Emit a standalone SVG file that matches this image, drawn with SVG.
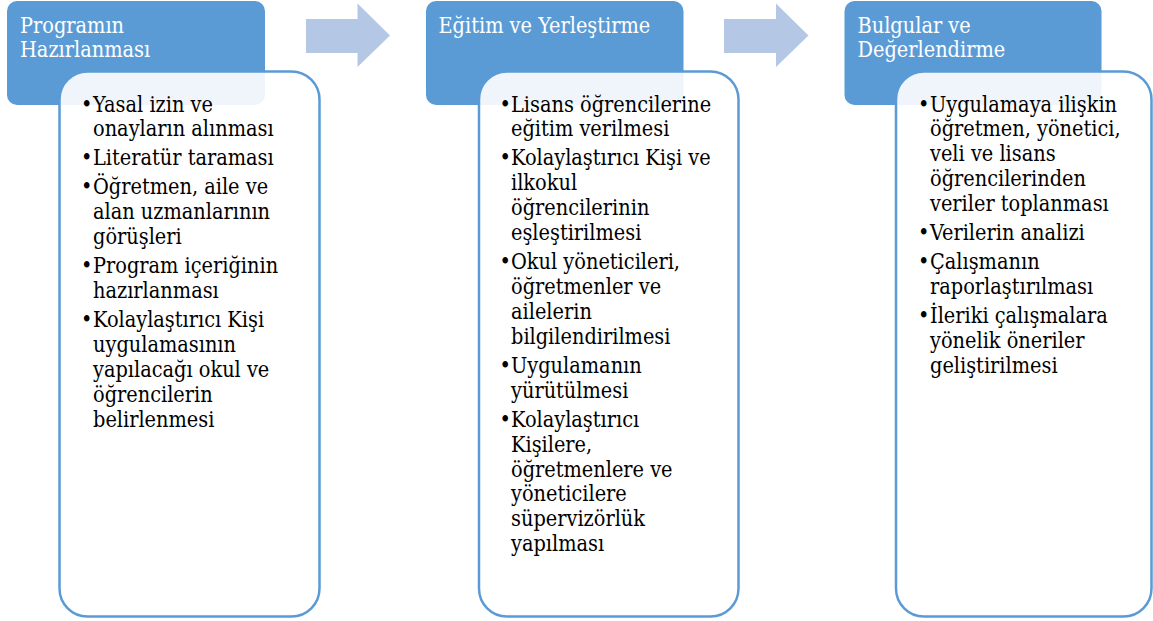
<svg xmlns="http://www.w3.org/2000/svg" width="1153" height="621" viewBox="0 0 1153 621">
<style>
.hdr{fill:#5B9BD5;}
.box{fill:#FFFFFF;fill-opacity:0.9;stroke:#5B9BD5;stroke-width:2.5;}
.arr{fill:#B4C8E6;}
.ht{font-family:'DejaVu Serif Condensed','DejaVu Serif',serif;font-stretch:condensed;font-size:21.5px;fill:#FFFFFF;}
.bt{font-family:'DejaVu Serif Condensed','DejaVu Serif',serif;font-stretch:condensed;font-size:21.5px;fill:#000000;}
</style>
<rect width="1153" height="621" fill="#FFFFFF"/>
<g id="connectors">
<path class="arr" d="M306,19 H357.5 V3.5 L390,35.5 L357.5,67 V53 H306 Z"/>
<path class="arr" d="M724,19 H776 V3.5 L808.5,35.5 L776,67 V53 H724 Z"/>
</g>
<g id="node1">
<rect class="hdr" x="7" y="1" width="258" height="104" rx="10"/>
<text class="ht"><tspan x="20" y="32.5">Programın</tspan><tspan x="20" y="57">Hazırlanması</tspan></text>
<rect class="box" x="59.5" y="71.5" width="260" height="545" rx="28"/>
<text class="bt">
<tspan x="81" y="111.5">•</tspan><tspan x="93" y="111.5">Yasal izin ve</tspan>
<tspan x="93" y="136.4">onayların alınması</tspan>
<tspan x="81" y="165.4">•</tspan><tspan x="93" y="165.4">Literatür taraması</tspan>
<tspan x="81" y="194.4">•</tspan><tspan x="93" y="194.4">Öğretmen, aile ve</tspan>
<tspan x="93" y="219.3">alan uzmanlarının</tspan>
<tspan x="93" y="244.2">görüşleri</tspan>
<tspan x="81" y="273.2">•</tspan><tspan x="93" y="273.2">Program içeriğinin</tspan>
<tspan x="93" y="298.1">hazırlanması</tspan>
<tspan x="81" y="327.1">•</tspan><tspan x="93" y="327.1">Kolaylaştırıcı Kişi</tspan>
<tspan x="93" y="352">uygulamasının</tspan>
<tspan x="93" y="376.9">yapılacağı okul ve</tspan>
<tspan x="93" y="401.8">öğrencilerin</tspan>
<tspan x="93" y="426.7">belirlenmesi</tspan>
</text>
</g>
<g id="node2">
<rect class="hdr" x="426" y="1" width="257.5" height="104" rx="10"/>
<text class="ht"><tspan x="438.5" y="32.5">Eğitim ve Yerleştirme</tspan></text>
<rect class="box" x="479" y="71.5" width="259.5" height="545" rx="28"/>
<text class="bt">
<tspan x="499.5" y="111.5">•</tspan><tspan x="511" y="111.5">Lisans öğrencilerine</tspan>
<tspan x="511" y="136.4">eğitim verilmesi</tspan>
<tspan x="499.5" y="165.4">•</tspan><tspan x="511" y="165.4">Kolaylaştırıcı Kişi ve</tspan>
<tspan x="511" y="190.3">ilkokul</tspan>
<tspan x="511" y="215.2">öğrencilerinin</tspan>
<tspan x="511" y="240.1">eşleştirilmesi</tspan>
<tspan x="499.5" y="269.1">•</tspan><tspan x="511" y="269.1">Okul yöneticileri,</tspan>
<tspan x="511" y="294">öğretmenler ve</tspan>
<tspan x="511" y="318.9">ailelerin</tspan>
<tspan x="511" y="343.8">bilgilendirilmesi</tspan>
<tspan x="499.5" y="372.8">•</tspan><tspan x="511" y="372.8">Uygulamanın</tspan>
<tspan x="511" y="397.7">yürütülmesi</tspan>
<tspan x="499.5" y="426.7">•</tspan><tspan x="511" y="426.7">Kolaylaştırıcı</tspan>
<tspan x="511" y="451.6">Kişilere,</tspan>
<tspan x="511" y="476.5">öğretmenlere ve</tspan>
<tspan x="511" y="501.4">yöneticilere</tspan>
<tspan x="511" y="526.3">süpervizörlük</tspan>
<tspan x="511" y="551.2">yapılması</tspan>
</text>
</g>
<g id="node3">
<rect class="hdr" x="844.5" y="1" width="257" height="104" rx="10"/>
<text class="ht"><tspan x="857.5" y="32.5">Bulgular ve</tspan><tspan x="857.5" y="57">Değerlendirme</tspan></text>
<rect class="box" x="896" y="71.5" width="255.5" height="545" rx="28"/>
<text class="bt">
<tspan x="918" y="111.5">•</tspan><tspan x="930" y="111.5">Uygulamaya ilişkin</tspan>
<tspan x="930" y="136.4">öğretmen, yönetici,</tspan>
<tspan x="930" y="161.3">veli ve lisans</tspan>
<tspan x="930" y="186.2">öğrencilerinden</tspan>
<tspan x="930" y="211.1">veriler toplanması</tspan>
<tspan x="918" y="240.1">•</tspan><tspan x="930" y="240.1">Verilerin analizi</tspan>
<tspan x="918" y="269.1">•</tspan><tspan x="930" y="269.1">Çalışmanın</tspan>
<tspan x="930" y="294">raporlaştırılması</tspan>
<tspan x="918" y="323">•</tspan><tspan x="930" y="323">İleriki çalışmalara</tspan>
<tspan x="930" y="347.9">yönelik öneriler</tspan>
<tspan x="930" y="372.8">geliştirilmesi</tspan>
</text>
</g>
</svg>
